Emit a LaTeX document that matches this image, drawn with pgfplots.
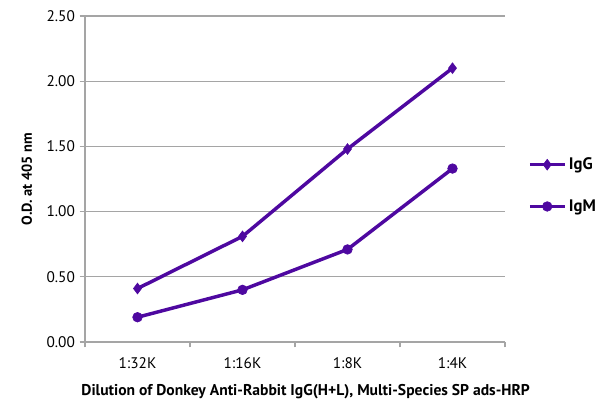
\documentclass[border=0pt]{standalone}
\usepackage{fontspec}
\setmainfont{PT Sans}
\usepackage{pgfplots}
\pgfplotsset{compat=1.18}
\definecolor{ab}{RGB}{78,8,160}
\definecolor{gr}{RGB}{165,165,165}
\begin{document}
\begin{tikzpicture}
\begin{axis}[
  at={(63.75pt,56.25pt)}, anchor=south west,
  scale only axis, width=315pt, height=244.5pt,
  xmin=-0.5, xmax=3.5, ymin=0, ymax=2.5,
  axis lines=left, axis line style={gr, line width=0.8pt, -},
  xtick={0,1,2,3}, xticklabels={1:32K,1:16K,1:8K,1:4K},
  minor xtick={-0.5,0.5,1.5,2.5,3.5},
  major x tick style={draw=none},
  minor tick length=4pt,
  tick align=outside,
  ytick={0,0.5,1,1.5,2,2.5},
  major tick length=4pt,
  tick style={gr, line width=0.8pt},
  ymajorgrids, grid style={gr, line width=0.8pt},
  yticklabel style={/pgf/number format/.cd, fixed, fixed zerofill, precision=2},
  /pgf/number format/assume math mode=true,
  ticklabel style={font=\fontsize{11.5}{13}\selectfont},
  xticklabel style={yshift=-4pt},
  ylabel={\bfseries O.D. at 405 nm},
  ylabel style={font=\fontsize{10.8}{13}\selectfont, yshift=4pt},
  xlabel={\bfseries Dilution of Donkey Anti-Rabbit IgG(H+L), Multi-Species SP ads-HRP},
  xlabel style={font=\fontsize{11.7}{14}\selectfont, yshift=-5pt, xshift=8pt},
  legend style={draw=none, fill=none, at={(1.045,0.48)}, anchor=west,
    row sep=17pt, font=\fontsize{12.5}{14}\selectfont\bfseries},
  legend cell align=left,
  legend image code/.code={\draw[#1] (0pt,0pt) -- (26pt,0pt); \draw[#1, only marks] plot coordinates {(13pt,0pt)};},
  clip=false,
]
\addplot[ab, line width=2.6pt, mark=diamond*, mark size=4pt, mark options={line width=0.5pt}]
  coordinates {(0,0.41) (1,0.81) (2,1.48) (3,2.10)};
\addlegendentry{IgG}
\addplot[ab, line width=2.6pt, mark=*, mark size=3.6pt, mark options={line width=0.5pt}]
  coordinates {(0,0.19) (1,0.40) (2,0.71) (3,1.33)};
\addlegendentry{IgM}
\end{axis}
\pgfresetboundingbox
\path[use as bounding box] (0,0) rectangle (450pt,312.75pt);
\end{tikzpicture}
\end{document}
